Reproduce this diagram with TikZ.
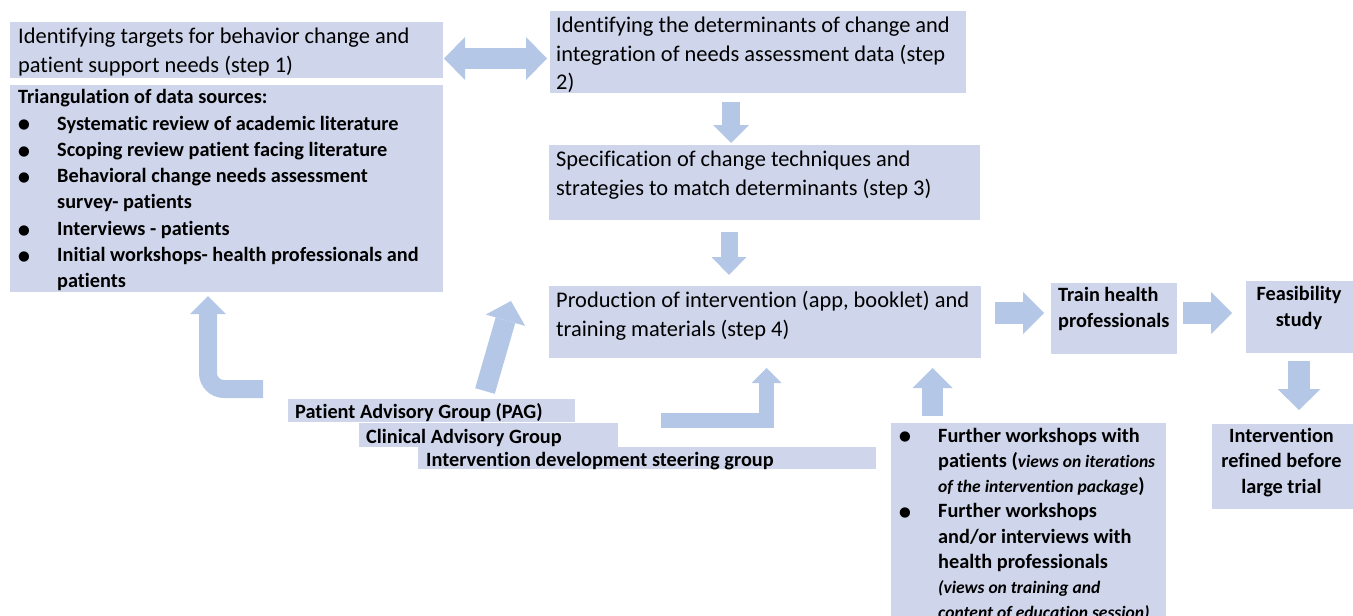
\documentclass[tikz,border=0pt]{standalone}
\usepackage{fontspec}
\setmainfont{Carlito}[Ligatures=NoCommon]
\newfontfamily\symfont{DejaVu Sans}
\usetikzlibrary{arrows.meta}
\definecolor{boxc}{HTML}{CFD5EA}
\definecolor{arrc}{HTML}{B4C7E7}
\newcommand\vsm{\fontsize{17.5}{25.3}\selectfont\itshape}
\newcommand\blt{{\symfont\fontsize{13.5}{13.5}\selectfont ●}}
\begin{document}
\begin{tikzpicture}[x=1pt,y=-1pt,
  box/.style={fill=boxc, draw=none, inner sep=0pt, outer sep=0pt, anchor=north west},
  reg/.style={font=\fontsize{22.4}{29}\selectfont, inner sep=0pt, anchor=base west},
  bld/.style={font=\fontsize{20.3}{25.3}\selectfont\bfseries, inner sep=0pt, anchor=base west},
  bldc/.style={bld, anchor=base},
  bul/.style={inner sep=0pt, anchor=base, yshift=1.2pt},
  blk/.style={draw=arrc, line cap=butt, line join=miter},
  tip/.style args={#1/#2}{-{Triangle[width=#1pt,length=#2pt,line width=0pt]}}
]
\useasboundingbox (0,0) rectangle (1353,616);

% boxes
\node[box, minimum width=433pt, minimum height=56pt] (s1) at (10,22) {};
\node[box, minimum width=433pt, minimum height=207pt] (tri) at (10,85) {};
\node[box, minimum width=416pt, minimum height=82pt] (s2) at (550,11) {};
\node[box, minimum width=431pt, minimum height=75pt] (s3) at (549,145) {};
\node[box, minimum width=432pt, minimum height=72pt] (s4) at (549,286) {};
\node[box, minimum width=126pt, minimum height=71pt] (train) at (1051,283) {};
\node[box, minimum width=110pt, minimum height=72pt] (feas) at (1246,281) {};
\node[box, minimum width=145pt, minimum height=85pt] (ref) at (1212,424) {};
\node[box, minimum width=275pt, minimum height=200pt] (ws) at (891,423) {};
\node[box, minimum width=287pt, minimum height=23pt] (pag) at (288,399) {};
\node[box, minimum width=259pt, minimum height=24pt] (cag) at (359,423) {};
\node[box, minimum width=458pt, minimum height=22pt] (isg) at (418,447) {};

% step 1
\node[reg] (s1a) at (18,43.5) {Identifying targets for behavior change and};
\node[reg] (s1b) at (18,72.5) {patient support needs (step 1)};
% triangulation
\node[bld] (t0) at (18,103.5) {Triangulation of data sources:};
\node[bul] (b1) at (24,130) {\blt};
\node[bld] (t1) at (57,130) {Systematic review of academic literature};
\node[bul] (b2) at (24,156.3) {\blt};
\node[bld] (t2) at (57,156.3) {Scoping review patient facing literature};
\node[bul] (b3) at (24,182.6) {\blt};
\node[bld] (t3) at (57,182.6) {Behavioral change needs assessment};
\node[bld] (t3b) at (57,208.9) {survey- patients};
\node[bul] (b4) at (24,235.2) {\blt};
\node[bld] (t4) at (57,235.2) {Interviews - patients};
\node[bul] (b5) at (24,261.5) {\blt};
\node[bld] (t5) at (57,261.5) {Initial workshops- health professionals and};
\node[bld] (t5b) at (57,287.8) {patients};
% step 2
\node[reg] (s2a) at (556,32.5) {Identifying the determinants of change and};
\node[reg] (s2b) at (556,61) {integration of needs assessment data (step};
\node[reg] (s2c) at (556,89.5) {2)};
% step 3
\node[reg] (s3a) at (556,166) {Specification of change techniques and};
\node[reg] (s3b) at (556,195.5) {strategies to match determinants (step 3)};
% step 4
\node[reg] (s4a) at (556,307) {Production of intervention (app, booklet) and};
\node[reg] (s4b) at (556,336) {training materials (step 4)};
% train
\node[bld] (tr1) at (1058,301) {Train health};
\node[bld] (tr2) at (1058,327) {professionals};
% feasibility
\node[bldc] (f1) at (1299,300) {Feasibility};
\node[bldc] (f2) at (1299,326) {study};
% refined
\node[bldc] (r1) at (1281.5,442) {Intervention};
\node[bldc] (r2) at (1281.5,467.5) {refined before};
\node[bldc] (r3) at (1281.5,493) {large trial};
% groups
\node[bld] (pagt) at (295,418.5) {Patient Advisory Group (PAG)};
\node[bld] (cagt) at (366,443) {Clinical Advisory Group};
\node[bld] (isgt) at (426,466.3) {Intervention development steering group};
% workshops
\node[bul] (wb1) at (905,442) {\blt};
\node[bld] (w1) at (938,442) {Further workshops with};
\node[bld] (w2) at (938,467.3) {patients ({\vsm views on iterations}};
\node[bld] (w3) at (938,492.6) {{\vsm of the intervention package})};
\node[bul] (wb2) at (905,517.9) {\blt};
\node[bld] (w4) at (938,517.9) {Further workshops};
\node[bld] (w5) at (938,543.2) {and/or interviews with};
\node[bld] (w6) at (938,568.5) {health professionals};
\node[bld] (w7) at (938,593.8) {{\vsm (views on training and}};
\node[bld] (w8) at (938,618.5) {{\vsm content of education session)}};

% arrow end points
\coordinate (da) at (444,58.5);   \coordinate (db) at (547,58.5);
\coordinate (d1a) at (731,102);   \coordinate (d1b) at (731,143);
\coordinate (d2a) at (729,232);   \coordinate (d2b) at (729,275);
\coordinate (ra) at (995,313);    \coordinate (rb) at (1044,313);
\coordinate (rc) at (1183,313);   \coordinate (rd) at (1232,313);
\coordinate (d3a) at (1299,361);  \coordinate (d3b) at (1299,410);
\coordinate (ua) at (932.5,416);  \coordinate (ub) at (932.5,368);
\coordinate (la) at (263,389);    \coordinate (lc) at (208,389); \coordinate (lb) at (208,296);
\coordinate (ga) at (485,391);    \coordinate (gb) at (511,301);
\coordinate (ka) at (661,420.5);  \coordinate (kc) at (766.5,420.5); \coordinate (kb) at (766.5,368);

% block arrows
\draw[blk, line width=21pt, {Triangle[width=43pt,length=21pt,line width=0pt]}-{Triangle[width=43pt,length=21pt,line width=0pt]}] (da) -- (db);
\draw[blk, line width=18pt, tip=36/18] (d1a) -- (d1b);
\draw[blk, line width=17pt, tip=35/18] (d2a) -- (d2b);
\draw[blk, line width=22pt, tip=42/21] (ra) -- (rb);
\draw[blk, line width=22pt, tip=42/21] (rc) -- (rd);
\draw[blk, line width=22pt, tip=43/21] (d3a) -- (d3b);
\draw[blk, line width=21pt, tip=40/20] (ua) -- (ub);
\draw[blk, line width=18pt, rounded corners=16pt, tip=36/18] (la) -- (lc) -- (lb);
\draw[blk, line width=20.4pt, tip=41/20] (ga) -- (gb);
\draw[blk, line width=15pt, tip=30/15] (ka) -- (kc) -- (kb);
\end{tikzpicture}
\end{document}
